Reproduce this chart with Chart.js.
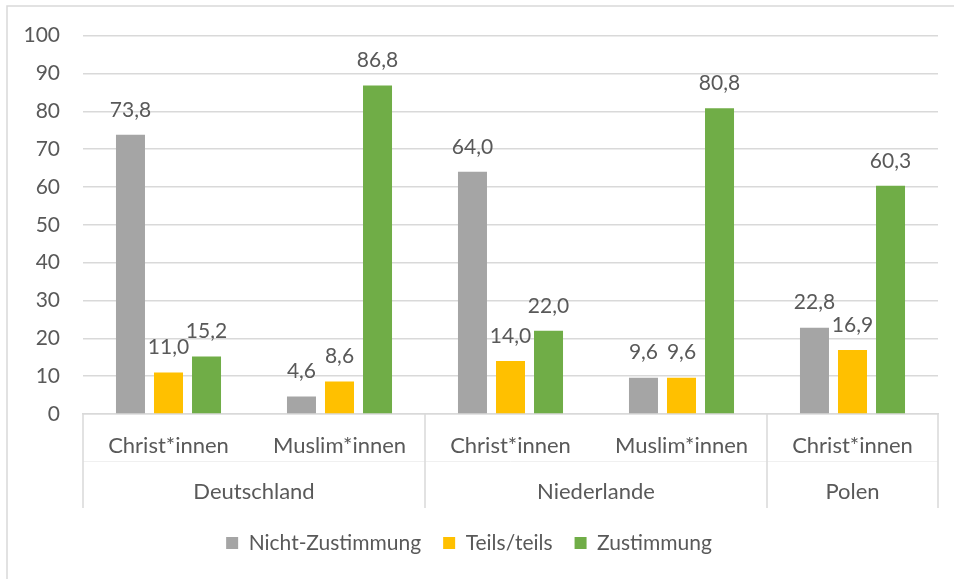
<!DOCTYPE html>
<html><head><meta charset="utf-8">
<script src="https://cdn.jsdelivr.net/npm/chart.js@4.4.1/dist/chart.umd.min.js"></script>
<style>html,body{margin:0;padding:0;background:#fff;}#wrap{width:954px;height:579px;position:relative}</style>
</head><body><div id="wrap"><canvas id="c" width="954" height="579"></canvas></div>
<script>
const categories = ['Christ*innen','Muslim*innen','Christ*innen','Muslim*innen','Christ*innen'];
const groups = ['Deutschland','Niederlande','Polen'];
const groupSizes = [2, 2, 1];
const seriesNames = ['Nicht-Zustimmung','Teils/teils','Zustimmung'];
const nichtZustimmung = [73.8, 4.6, 64.0, 9.6, 22.8];
const teilsTeils = [11.0, 8.6, 14.0, 9.6, 16.9];
const zustimmung = [15.2, 86.8, 22.0, 80.8, 60.3];
const yMin = 0, yMax = 100, yStep = 10;

const FONT = 'Lato';
const FS = 21;
const FSX = 22;
const TXT = '#595959';
const LINE = '#d9d9d9';
const colors = ['#a5a5a5', '#ffc000', '#70ad47'];

const fmt = v => v.toFixed(1).replace('.', ',');

const borderPlugin = {
  id: 'outerBorder',
  beforeDraw(chart) {
    const ctx = chart.ctx;
    ctx.save();
    ctx.fillStyle = '#fff';
    ctx.fillRect(0, 0, chart.width, chart.height);
    ctx.strokeStyle = LINE;
    ctx.lineWidth = 1.5;
    ctx.strokeRect(7, 6, chart.width + 10, chart.height + 10);
    ctx.restore();
  }
};

const labelPlugin = {
  id: 'valueLabels',
  afterDatasetsDraw(chart) {
    const ctx = chart.ctx;
    ctx.save();
    ctx.font = FS + 'px ' + FONT;
    ctx.fillStyle = TXT;
    ctx.textAlign = 'center';
    ctx.textBaseline = 'middle';
    chart.data.datasets.forEach((ds, di) => {
      const meta = chart.getDatasetMeta(di);
      meta.data.forEach((bar, i) => {
        ctx.fillText(fmt(ds.data[i]), bar.x, bar.y - 25);
      });
    });
    ctx.restore();
  }
};

const groupPlugin = {
  id: 'groupAxis',
  afterDraw(chart) {
    const xs = chart.scales.x;
    const ctx = chart.ctx;
    const area = chart.chartArea;
    const half = (xs.getPixelForValue(1) - xs.getPixelForValue(0)) / 2;
    const bottom = 508;
    ctx.save();
    ctx.strokeStyle = '#f0f0f0';
    ctx.lineWidth = 1;
    ctx.beginPath();
    ctx.moveTo(area.left, 461.5);
    ctx.lineTo(area.right, 461.5);
    ctx.stroke();
    ctx.strokeStyle = LINE;
    ctx.lineWidth = 1.5;
    ctx.font = FSX + 'px ' + FONT;
    ctx.fillStyle = TXT;
    ctx.textAlign = 'center';
    ctx.textBaseline = 'middle';
    let idx = 0;
    const edges = [];
    groups.forEach((g, gi) => {
      const l = xs.getPixelForValue(idx) - half;
      const r = xs.getPixelForValue(idx + groupSizes[gi] - 1) + half;
      edges.push(l, r);
      ctx.fillText(g, (l + r) / 2, 492);
      idx += groupSizes[gi];
    });
    ctx.beginPath();
    [...new Set(edges.map(e => Math.round(e)))].forEach(x => {
      ctx.moveTo(x, area.bottom);
      ctx.lineTo(x, bottom);
    });
    ctx.stroke();
    ctx.restore();
  }
};

new Chart(document.getElementById('c'), {
  type: 'bar',
  data: {
    labels: categories,
    datasets: [
      { label: seriesNames[0], data: nichtZustimmung, backgroundColor: colors[0] },
      { label: seriesNames[1], data: teilsTeils, backgroundColor: colors[1] },
      { label: seriesNames[2], data: zustimmung, backgroundColor: colors[2] }
    ]
  },
  options: {
    responsive: false,
    animation: false,
    devicePixelRatio: 1,
    datasets: { bar: { categoryPercentage: 0.667, barPercentage: 0.763 } },
    layout: { padding: { top: 35, right: 16, bottom: 15.5, left: 0 } },
    plugins: {
      legend: {
        position: 'bottom',
        labels: {
          boxWidth: 12, boxHeight: 12, padding: 22,
          color: TXT, font: { family: FONT, size: FS }
        }
      },
      tooltip: { enabled: false }
    },
    scales: {
      x: {
        grid: { display: false, drawTicks: false },
        border: { display: true, color: LINE, width: 1.5 },
        ticks: { color: TXT, font: { family: FONT, size: FSX }, padding: 19, maxRotation: 0, autoSkip: false },
        afterFit(s) { s.height = 96.5; }
      },
      y: {
        min: yMin, max: yMax,
        grid: { color: LINE, lineWidth: 1.5, drawTicks: false },
        border: { display: false },
        ticks: { stepSize: yStep, color: TXT, font: { family: FONT, size: FS }, padding: 23 },
        afterFit(s) { s.width = 83; }
      }
    }
  },
  plugins: [borderPlugin, labelPlugin, groupPlugin]
});
</script>
</body></html>
